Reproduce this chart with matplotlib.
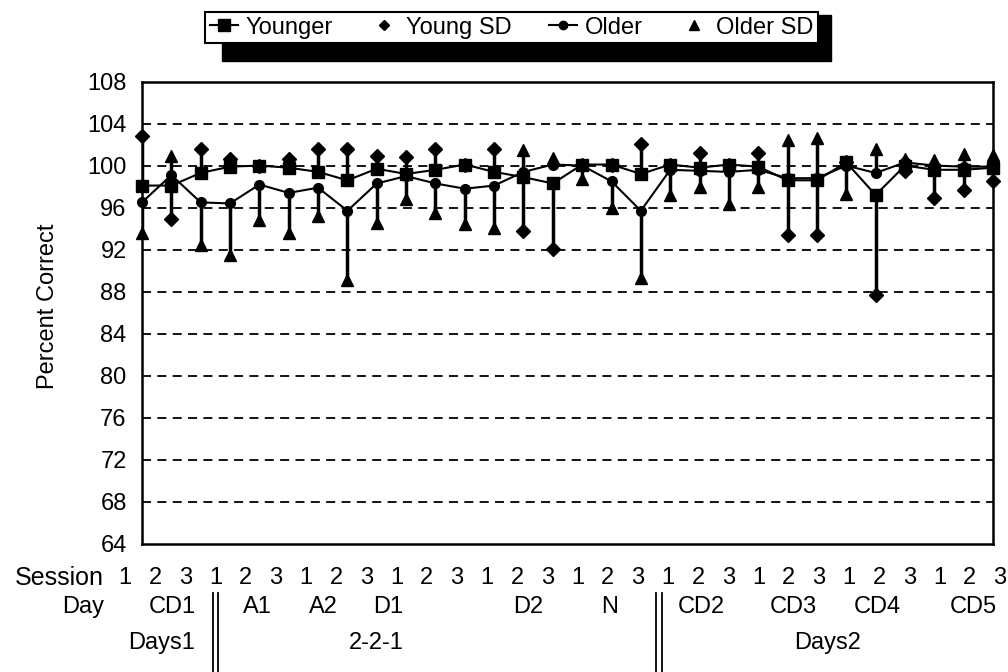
import matplotlib
matplotlib.use("Agg")
import matplotlib.pyplot as plt
import matplotlib.transforms as mtrans
from matplotlib.lines import Line2D
from matplotlib.patches import Rectangle
import numpy as np

plt.rcParams['font.family'] = ['Liberation Sans', 'DejaVu Sans']

# ---------------- data ----------------
sessions = ['1', '2', '3'] * 10
days = ['CD1', 'A1', 'A2', 'D1', 'D2', 'N', 'CD2', 'CD3', 'CD4', 'CD5']
groups = ['Days1', '2-2-1', 'Days2']
series_names = ['Younger', 'Young SD', 'Older', 'Older SD']

younger = [98.1, 98.1, 99.3, 99.9, 100.0, 99.8, 99.4, 98.6, 99.7, 99.2,
           99.6, 100.1, 99.4, 98.9, 98.3, 100.1, 100.1, 99.2, 100.1, 99.8,
           100.1, 99.9, 98.6, 98.6, 100.3, 97.2, 100.0, 99.6, 99.6, 99.8]
young_sd = [102.8, 94.9, 101.6, 100.6, 100.0, 100.6, 101.6, 101.6, 100.9, 100.8,
            101.6, 100.1, 101.6, 93.8, 92.1, 100.1, 100.1, 102.1, 100.1, 101.2,
            100.1, 101.2, 93.4, 93.4, 100.3, 87.7, 99.5, 96.9, 97.7, 98.5]
older = [96.5, 99.1, 96.5, 96.4, 98.2, 97.4, 97.9, 95.7, 98.3, 99.0,
         98.3, 97.8, 98.1, 99.4, 100.1, 100.0, 98.5, 95.7, 99.6, 99.5,
         99.4, 99.6, 98.8, 98.8, 100.0, 99.3, 100.3, 100.0, 99.9, 99.9]
older_sd = [93.6, 100.9, 92.4, 91.5, 94.8, 93.6, 95.2, 89.1, 94.5, 96.8,
            95.5, 94.4, 94.1, 101.5, 100.7, 98.7, 96.0, 89.3, 97.2, 98.0,
            96.3, 98.0, 102.4, 102.6, 97.3, 101.6, 100.6, 100.5, 101.1, 101.0]

FS = 17

# ---------------- figure ----------------
W, H = 1008, 672
fig = plt.figure(figsize=(W / 100, H / 100), dpi=100)
ax = fig.add_axes([142 / W, 1 - 544 / H, (993 - 142) / W, (544 - 81.5) / H])

x = np.arange(len(younger))
ax.set_xlim(0, len(younger) - 1)
ax.set_ylim(64, 108)
ax.set_yticks(np.arange(64, 109, 4))
ax.set_xticks([])
ax.tick_params(axis='y', length=0, pad=11, labelsize=FS)
for s in ax.spines.values():
    s.set_linewidth(1.8)

for v in np.arange(68, 108, 4):
    ax.axhline(v, color='k', ls=(0, (5, 3.5)), lw=1.3, zorder=1)

ax.vlines(x, younger, young_sd, color='k', lw=2.5, zorder=2)
ax.vlines(x, older, older_sd, color='k', lw=2.5, zorder=2)
ax.plot(x, younger, '-s', color='k', ms=9, lw=1.5, zorder=3, clip_on=False)
ax.plot(x, young_sd, 'D', color='k', ms=7.5, zorder=3, clip_on=False)
ax.plot(x, older, '-o', color='k', ms=7, lw=1.5, zorder=4, clip_on=False)
ax.plot(x, older_sd, '^', color='k', ms=9, zorder=3, clip_on=False)

ax.set_ylabel('Percent Correct', fontsize=FS)
ax.yaxis.set_label_coords(-0.098, 0.515)

# ---------------- legend with heavy shadow ----------------
handles = [
    Line2D([], [], color='k', marker='s', ls='-', ms=8, lw=1.5),
    Line2D([], [], color='k', marker='D', ls='none', ms=5.5),
    Line2D([], [], color='k', marker='o', ls='-', ms=6, lw=1.5),
    Line2D([], [], color='k', marker='^', ls='none', ms=7),
]
leg = fig.legend(handles, series_names, loc='upper left',
                 bbox_to_anchor=(205 / W, 1 - 12 / H), ncol=4, frameon=True,
                 fancybox=False, edgecolor='k', framealpha=1, fontsize=FS,
                 handlelength=1.2, handletextpad=0.3, columnspacing=1.6,
                 borderpad=0.2, borderaxespad=0)
leg.get_frame().set_linewidth(1.5)
leg.set_zorder(10)
fig.canvas.draw()
bb = leg.get_window_extent()
shadow = Rectangle((bb.x0 + 17, bb.y0 - 18), bb.width - 4, bb.height + 15,
                   transform=None, facecolor='k', edgecolor='k', zorder=9)
fig.add_artist(shadow)

# ---------------- table text below the axes ----------------
bt = mtrans.blended_transform_factory(ax.transData, fig.transFigure)
y_sess, y_day, y_grp = 1 - 578 / H, 1 - 607 / H, 1 - 643 / H

fig.text(104 / W, y_sess, 'Session', ha='right', va='center', fontsize=18)
fig.text(104 / W, y_day, 'Day', ha='right', va='center', fontsize=FS)

for i, s in enumerate(sessions):
    fig.text(-0.58 + i * 1.028, y_sess, s, transform=bt,
             ha='center', va='center', fontsize=FS)

day_pos = [1.02, 3.92, 6.17, 8.38, 13.16, 15.95, 19.05, 22.19, 25.05, 28.32]
for p, d in zip(day_pos, days):
    fig.text(p, y_day, d, transform=bt, ha='center', va='center', fontsize=FS)

grp_pos = [0.68, 8.0, 23.35]
for p, g in zip(grp_pos, groups):
    fig.text(p, y_grp, g, transform=bt, ha='center', va='center', fontsize=FS)

for xs in (2.43, 2.59, 17.5, 17.72):
    fig.add_artist(Line2D([xs, xs], [1 - 593 / H, 0], transform=bt,
                          color='k', lw=1.3))

fig.savefig('out.png', dpi=100)
